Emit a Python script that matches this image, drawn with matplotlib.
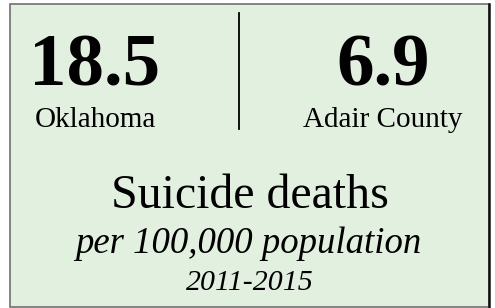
import matplotlib.pyplot as plt
from matplotlib.patches import Rectangle

plt.rcParams['font.family'] = ['Liberation Serif', 'DejaVu Serif']

# data
regions = ["Oklahoma", "Adair County"]
rates = [18.5, 6.9]
title = "Suicide deaths"
subtitle = "per 100,000 population"
period = "2011-2015"

fig = plt.figure(figsize=(4.95, 3.08), dpi=100)
ax = fig.add_axes([0, 0, 1, 1])
ax.set_xlim(0, 495)
ax.set_ylim(308, 0)
ax.axis('off')

# card background + border (right edge is darker)
ax.add_patch(Rectangle((10, 4), 479, 303, facecolor='#e2f1df',
                       edgecolor='#707070', linewidth=1.2))
ax.plot([489, 489], [4, 307], color='#111111', linewidth=1.8)

# divider
ax.plot([239, 239], [13, 129], color='black', linewidth=1.3)

xs = [95, 383]
for x, r, name in zip(xs, rates, regions):
    ax.text(x, 85, f"{r:.1f}", ha='center', va='baseline',
            fontsize=54, fontweight='bold')
    ax.text(x, 127, name, ha='center', va='baseline', fontsize=21)

ax.text(250, 208, title, ha='center', va='baseline', fontsize=34.5)
ax.text(248, 253, subtitle, ha='center', va='baseline', fontsize=26.5,
        style='italic')
ax.text(250, 290, period, ha='center', va='baseline', fontsize=21.5,
        style='italic')

fig.savefig('out.png', dpi=100)
